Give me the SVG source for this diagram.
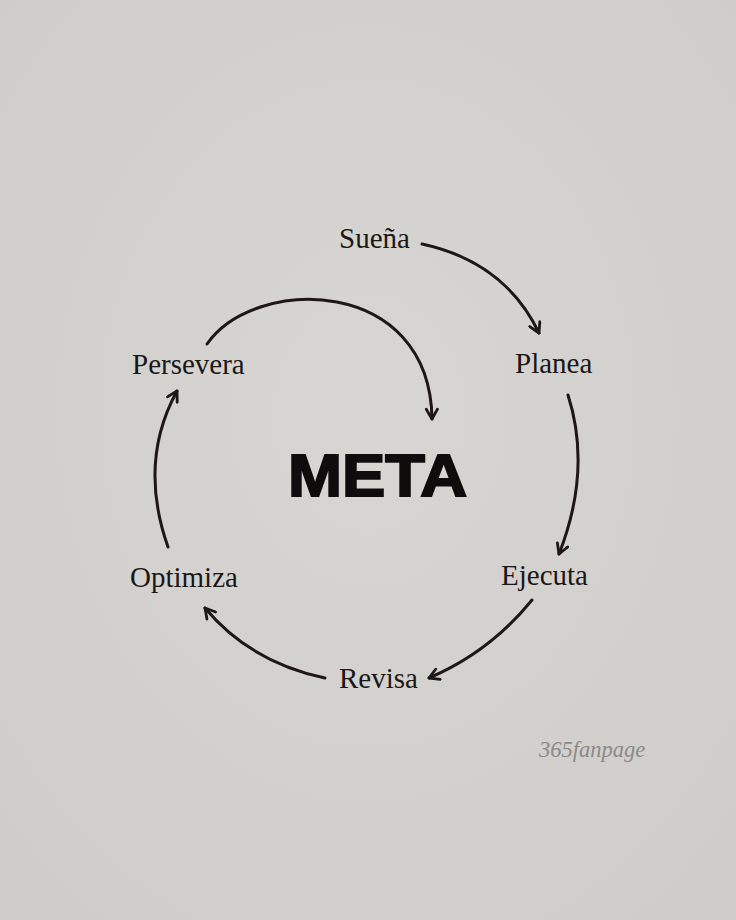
<svg xmlns="http://www.w3.org/2000/svg" width="736" height="920" viewBox="0 0 736 920">
  <style>
    .lbl { font-family: "Liberation Serif", "DejaVu Serif", serif; font-size: 29px; fill: #1b1717; }
    .meta { font-family: "Liberation Sans", Arial, sans-serif; font-weight: bold; font-size: 60px; fill: #0e0c0c; stroke: #0e0c0c; stroke-width: 2; stroke-linejoin: miter; }
    .wm { font-family: "Liberation Serif", serif; font-style: italic; font-size: 22.5px; fill: #8c8a87; }
    .arc { fill: none; stroke: #1e1717; stroke-width: 3; stroke-linecap: round; marker-end: url(#head); }
  </style>
  <defs>
    <marker id="head" viewBox="0 0 10 10" refX="8.5" refY="5" markerUnits="userSpaceOnUse" markerWidth="14" markerHeight="14" orient="auto">
      <path d="M1.5,1 L8.5,5 L1.5,9" fill="none" stroke="#1e1717" stroke-width="2" stroke-linecap="round" stroke-linejoin="round"/>
    </marker>
    <radialGradient id="bg" cx="50%" cy="45%" r="70%">
      <stop offset="0" stop-color="#d8d6d3"/>
      <stop offset="1" stop-color="#cfcdca"/>
    </radialGradient>
  </defs>
  <rect width="736" height="920" fill="url(#bg)"/>

  <g id="connectors">
    <path class="arc" d="M422,244 Q505,262 539,333"/>
    <path class="arc" d="M568,395 Q592,470 559,554"/>
    <path class="arc" d="M532,600 Q490,652 429,678"/>
    <path class="arc" d="M325,678 Q250,662 205,608"/>
    <path class="arc" d="M168,547 Q138,462 177,391"/>
    <path class="arc" d="M207,344 C255,275 430,276 432,419"/>
  </g>

  <g id="node-suena"><text class="lbl" x="339" y="248">Sueña</text></g>
  <g id="node-planea"><text class="lbl" x="515" y="373">Planea</text></g>
  <g id="node-ejecuta"><text class="lbl" x="501" y="585">Ejecuta</text></g>
  <g id="node-revisa"><text class="lbl" x="339" y="688">Revisa</text></g>
  <g id="node-optimiza"><text class="lbl" x="130" y="587">Optimiza</text></g>
  <g id="node-persevera"><text class="lbl" x="132" y="374">Persevera</text></g>
  <g id="node-meta"><text class="meta" x="288" y="496" textLength="179" lengthAdjust="spacingAndGlyphs">META</text></g>
  <g id="watermark"><text class="wm" x="539" y="757">365fanpage</text></g>
</svg>
